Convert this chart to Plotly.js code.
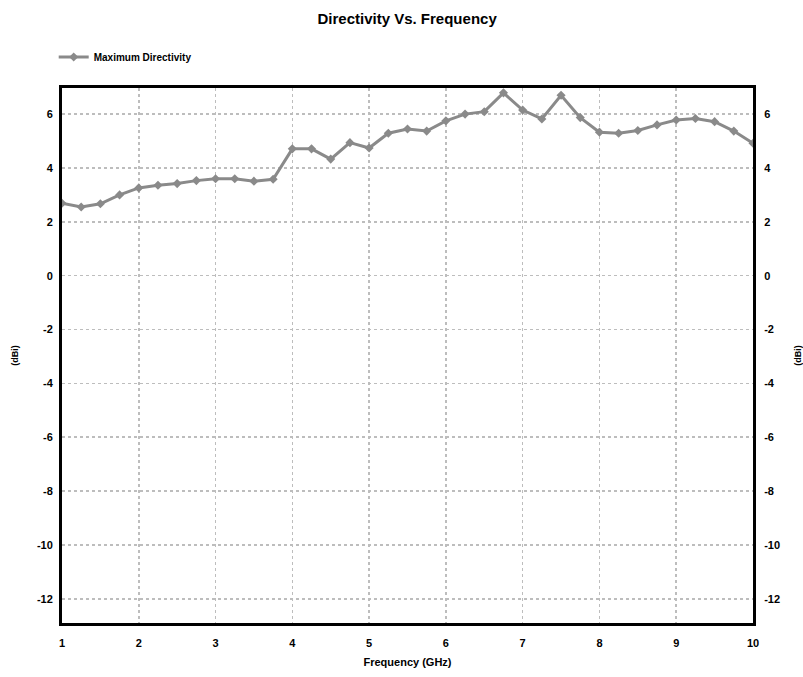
<!DOCTYPE html>
<html>
<head>
<meta charset="utf-8">
<script src="https://cdn.plot.ly/plotly-3.0.1.min.js"></script>
<style>html,body{margin:0;padding:0;background:#fff;}#chart{width:803px;height:677px;}</style>
</head>
<body>
<div id="chart"></div>
<script>
const freqGHz = [1,1.25,1.5,1.75,2,2.25,2.5,2.75,3,3.25,3.5,3.75,4,4.25,4.5,4.75,5,5.25,5.5,5.75,6,6.25,6.5,6.75,7,7.25,7.5,7.75,8,8.25,8.5,8.75,9,9.25,9.5,9.75,10];
const maxDirectivity = [2.69,2.55,2.67,3.0,3.26,3.36,3.42,3.53,3.6,3.6,3.51,3.58,4.71,4.71,4.33,4.94,4.74,5.29,5.45,5.37,5.75,6.0,6.09,6.79,6.15,5.82,6.7,5.87,5.33,5.29,5.39,5.6,5.78,5.84,5.72,5.37,4.92];
const xTicks = [1,2,3,4,5,6,7,8,9,10];
const yTicks = [6,4,2,0,-2,-4,-6,-8,-10,-12];

const FONT = "Liberation Sans, Arial, sans-serif";
const traces = [
  {x: freqGHz, y: maxDirectivity, type: 'scatter', mode: 'lines+markers', name: 'Maximum Directivity',
   line: {color: '#8a8a8a', width: 3}, marker: {symbol: 'diamond', size: 7, color: '#8a8a8a'}},
  {x: freqGHz, y: maxDirectivity, type: 'scatter', mode: 'lines', yaxis: 'y2', showlegend: false,
   hoverinfo: 'skip', line: {color: 'rgba(0,0,0,0)', width: 0}}
];
const tickFont = {family: FONT, size: 11, color: '#000', weight: 'bold'};
const layout = {
  width: 803, height: 677,
  margin: {l: 62, r: 50, t: 88, b: 54},
  paper_bgcolor: '#fff', plot_bgcolor: '#fff',
  title: {text: '<b>Directivity Vs. Frequency</b>', font: {family: FONT, size: 15, color: '#000'}, x: 0.507, xanchor: 'center', y: 0.973, yanchor: 'middle'},
  showlegend: true,
  legend: {orientation: 'h', x: -0.012, xanchor: 'left', y: 1.058, yanchor: 'middle', font: {family: FONT, size: 10, color: '#000', weight: 'bold'}, bgcolor: 'rgba(0,0,0,0)'},
  xaxis: {range: [1, 10], tickvals: xTicks, ticktext: xTicks.map(String), tickfont: tickFont,
    showgrid: true, gridcolor: '#bdbdbd', griddash: 'dot', gridwidth: 1.5,
    showline: true, linecolor: '#000', linewidth: 3, mirror: true, ticks: '', ticklen: 0,
    ticklabelstandoff: 8, zeroline: false,
    title: {text: '<b>Frequency (GHz)</b>', font: {family: FONT, size: 11, color: '#000'}, standoff: 11}},
  yaxis: {range: [-12.9, 6.97], tickvals: yTicks, ticktext: yTicks.map(String), tickfont: tickFont,
    showgrid: true, gridcolor: '#bdbdbd', griddash: 'dot', gridwidth: 1.5,
    showline: true, linecolor: '#000', linewidth: 3, ticks: '', zeroline: false,
    ticklabelstandoff: 4,
    title: {text: '<b>(dBi)</b>', font: {family: FONT, size: 9, color: '#000'}, standoff: 17}},
  yaxis2: {range: [-12.9, 6.97], tickvals: yTicks, ticktext: yTicks.map(String), tickfont: tickFont,
    overlaying: 'y', side: 'right', showgrid: false, showline: true, linecolor: '#000', linewidth: 3,
    ticks: '', zeroline: false, ticklabelstandoff: 6,
    title: {text: '<b>(dBi)</b>', font: {family: FONT, size: 9, color: '#000'}, standoff: 18}}
};
Plotly.newPlot('chart', traces, layout, {displayModeBar: false, staticPlot: true});
</script>
</body>
</html>
